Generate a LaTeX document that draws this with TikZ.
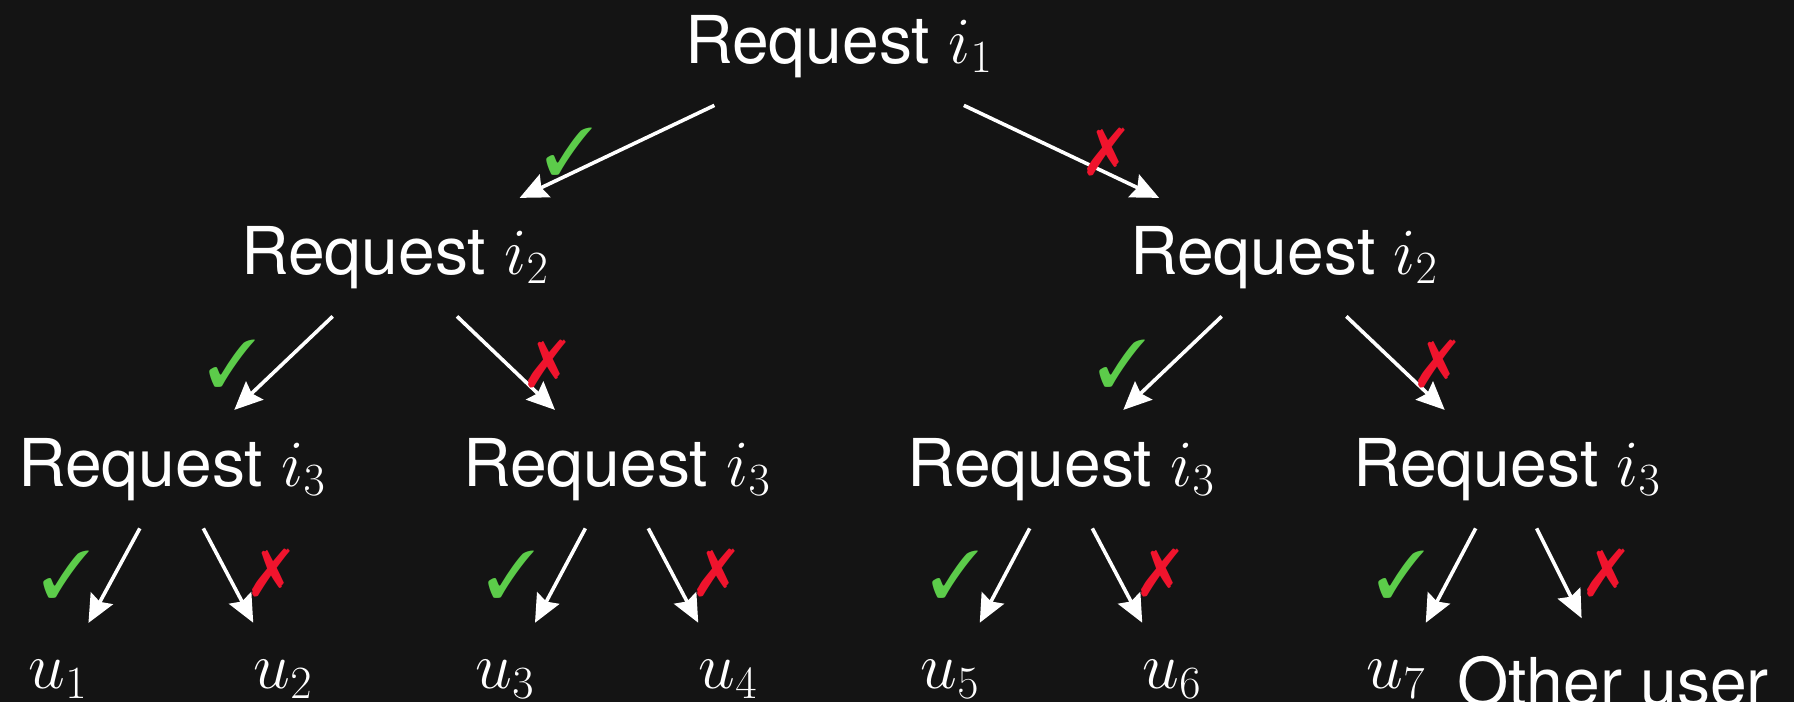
\RequirePackage{fix-cm}
\documentclass[tikz,border=0pt]{standalone}
\usepackage{fontspec}
\setmainfont{TeX Gyre Heros}
\usepackage{pifont}
\usetikzlibrary{arrows.meta}
\definecolor{bg}{RGB}{20,20,20}
\definecolor{okgreen}{RGB}{92,204,74}
\definecolor{nored}{RGB}{240,20,45}
\begin{document}
\begin{tikzpicture}[x=0.5pt,y=-0.5pt,
  lbl/.style={text=white,font=\fontsize{33}{40}\selectfont,inner sep=0pt},
  req/.style={lbl,anchor=base,outer sep=14pt},
  leaf/.style={lbl,anchor=center,outer sep=0pt},
  arr/.style={draw=white,line width=1.8pt,-{Stealth[length=14pt,width=12.5pt,inset=2pt]}},
  leafarr/.style={arr,shorten >=21pt},
  yes/.style={text=okgreen,font=\fontsize{33}{40}\selectfont,inner sep=0pt},
  no/.style={text=nored,font=\fontsize{33}{40}\selectfont,inner sep=0pt}]
\fill[bg] (0,0) rectangle (1794,702);
\useasboundingbox (0,0) rectangle (1794,702);
% level 1
\node[req] (r1) at (839,63) {Request $i_1$};
% level 2
\node[req] (r2a) at (395,274) {Request $i_2$};
\node[req] (r2b) at (1284,274) {Request $i_2$};
% level 3
\node[req] (r3a) at (172,486) {Request $i_3$};
\node[req] (r3b) at (617,486) {Request $i_3$};
\node[req] (r3c) at (1061,486) {Request $i_3$};
\node[req] (r3d) at (1507,486) {Request $i_3$};
% leaves
\node[leaf] (u1) at (58,679) {$u_1$};
\node[leaf] (u2) at (283,679) {$u_2$};
\node[leaf] (u3) at (505,679) {$u_3$};
\node[leaf] (u4) at (728,679) {$u_4$};
\node[leaf] (u5) at (950,679) {$u_5$};
\node[leaf] (u6) at (1172,679) {$u_6$};
\node[leaf] (u7) at (1396,679) {$u_7$};
\node[leaf] (ou) at (1613,681) {Other user};
% arrows
\draw[arr] (r1) -- (r2a);
\draw[arr] (r1) -- (r2b);
\draw[arr] (r2a) -- (r3a);
\draw[arr] (r2a) -- (r3b);
\draw[arr] (r2b) -- (r3c);
\draw[arr] (r2b) -- (r3d);
\draw[leafarr] (r3a) -- (u1);
\draw[leafarr] (r3a) -- (u2);
\draw[leafarr] (r3b) -- (u3);
\draw[leafarr] (r3b) -- (u4);
\draw[leafarr] (r3c) -- (u5);
\draw[leafarr] (r3c) -- (u6);
\draw[leafarr] (r3d) -- (u7);
\draw[leafarr] (r3d) -- (ou);
% marks
\node[yes] (c1) at (569,152) {\ding{51}};
\node[no]  (x1) at (1106,152) {\ding{55}};
\node[yes] (c2a) at (232,364) {\ding{51}};
\node[no]  (x2a) at (547,364) {\ding{55}};
\node[yes] (c2b) at (1122,364) {\ding{51}};
\node[no]  (x2b) at (1437,364) {\ding{55}};
\node[yes] (c3a) at (66,575) {\ding{51}};
\node[no]  (x3a) at (271,573) {\ding{55}};
\node[yes] (c3b) at (511,575) {\ding{51}};
\node[no]  (x3b) at (716,573) {\ding{55}};
\node[yes] (c3c) at (955,575) {\ding{51}};
\node[no]  (x3c) at (1160,573) {\ding{55}};
\node[yes] (c3d) at (1401,575) {\ding{51}};
\node[no]  (x3d) at (1606,573) {\ding{55}};
\end{tikzpicture}
\end{document}
